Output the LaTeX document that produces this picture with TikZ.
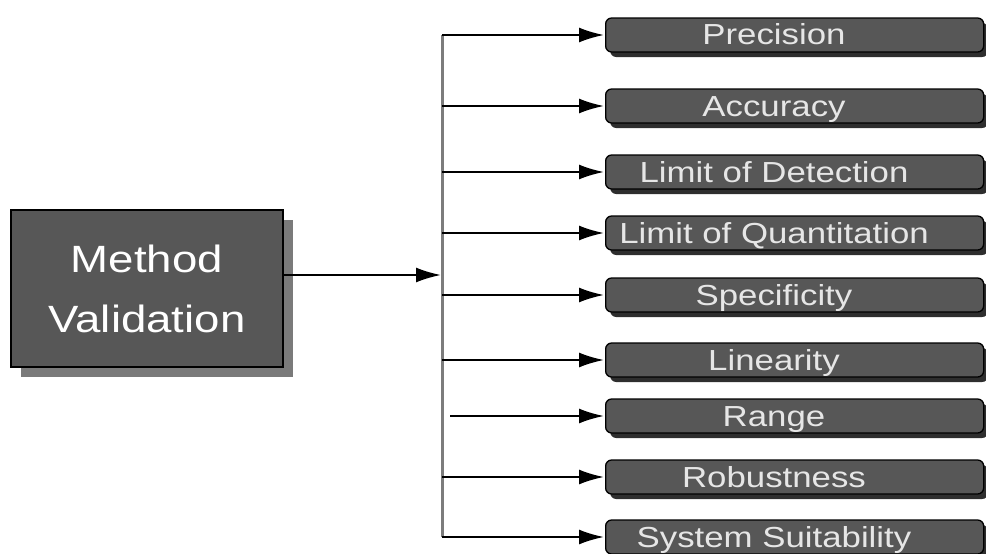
\documentclass[tikz,border=0pt]{standalone}
\usepackage{fontspec}
\setmainfont{Liberation Sans}
\usetikzlibrary{arrows.meta,calc}
\definecolor{boxgray}{HTML}{575757}
\definecolor{txtgray}{HTML}{E6E6E6}
\definecolor{shadowdark}{HTML}{2E2E2E}
\definecolor{shadowmain}{HTML}{7A7A7A}
\definecolor{trunk}{HTML}{7C7C7C}
\tikzset{
  mainbox/.style={draw=black,line width=1.5pt,fill=boxgray,minimum width=272pt,minimum height=157pt,inner sep=0pt,text=white,align=center,font=\fontsize{38}{60}\selectfont},
  smallbox/.style={draw=black,line width=1.3pt,fill=boxgray,rounded corners=6pt,minimum width=378pt,minimum height=34pt,inner sep=0pt,anchor=west},
  smallshadow/.style={fill=shadowdark,rounded corners=6pt,minimum width=378pt,minimum height=34pt,inner sep=0pt,anchor=west},
  lbl/.style={text=txtgray,font=\fontsize{29}{30}\selectfont,text height=20pt,text depth=0pt,inner sep=0pt},
  link/.style={line width=2pt,-{Latex[length=25pt,width=15pt]},shorten >=1pt},
}
\newcommand{\wide}[1]{\scalebox{1.2}[1]{#1}}
\begin{document}
\begin{tikzpicture}[x=1pt,y=-1pt]
\useasboundingbox (0,0) rectangle (986,554);
% main box
\node[fill=shadowmain,minimum width=272pt,minimum height=157pt,inner sep=0pt] (ms) at (157,298.5) {};
\node[mainbox] (m) at (147,288.5) {\wide{Method}\\\wide{Validation}};
% trunk
\coordinate (top) at (442,35);
\coordinate (bot) at (442,537);
\coordinate (hub) at (442,275);
% boxes
\foreach \n/\y/\t in {1/35/Precision,2/106/Accuracy,3/172/Limit of Detection,4/233/Limit of Quantitation,5/295/Specificity,6/360/Linearity,7/416/Range,8/477/Robustness,9/537/System Suitability}{
  \node[smallshadow] (s\n) at (610,\y+5) {};
  \node[smallbox] (b\n) at (605,\y) {};
  \node[lbl] (t\n) at (774,\y) {\wide{\t}};
}
% arrows
\draw[trunk,line width=3pt] (top) -- (bot);
\draw[link] (m.east |- hub) -- (hub);
\foreach \n in {1,2,3,4,5,6,8,9}{
  \draw[link] (top |- b\n.west) -- (b\n.west);
}
\draw[link] ($(top |- b7.west)+(8,0)$) -- (b7.west);
\end{tikzpicture}
\end{document}
